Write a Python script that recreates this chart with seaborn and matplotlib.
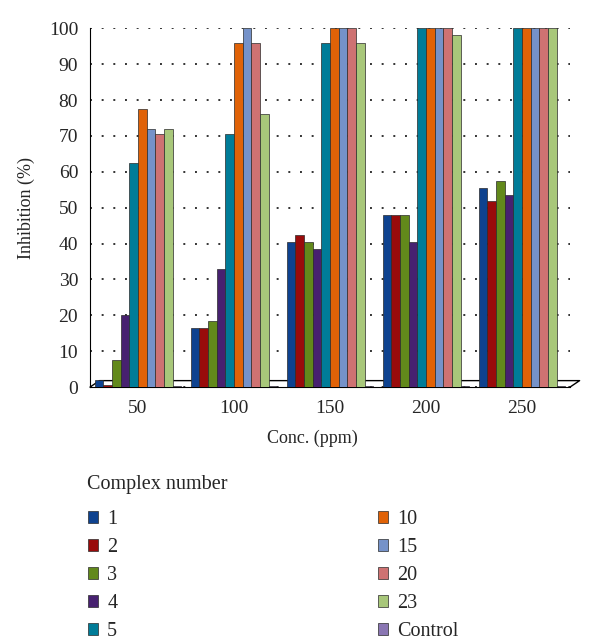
import numpy as np
import pandas as pd
import matplotlib.pyplot as plt
import seaborn as sns

concentracoes = ["50", "100", "150", "200", "250"]
complexos = ["1", "2", "3", "4", "5", "10", "15", "20", "23", "Control"]

# inibicao (%) por complexo, na ordem das concentracoes
inib_1 = [2, 16.5, 40.5, 48, 55.5]
inib_2 = [0.5, 16.5, 42.5, 48, 52]
inib_3 = [7.5, 18.5, 40.5, 48, 57.5]
inib_4 = [20, 33, 38.5, 40.5, 53.5]
inib_5 = [62.5, 70.5, 96, 100, 100]
inib_10 = [77.5, 96, 100, 100, 100]
inib_15 = [72, 100, 100, 100, 100]
inib_20 = [70.5, 96, 100, 100, 100]
inib_23 = [72, 76, 96, 98, 100]
inib_controle = [0.4, 0.4, 0.4, 0.4, 0.4]

cores = ["#0E428F", "#990B0B", "#62891B", "#472170", "#007C98",
         "#E06207", "#7592C9", "#CE7272", "#A8C77A", "#8A76B3"]

series = [inib_1, inib_2, inib_3, inib_4, inib_5,
          inib_10, inib_15, inib_20, inib_23, inib_controle]

linhas = []
for nome, valores in zip(complexos, series):
    for conc, v in zip(concentracoes, valores):
        linhas.append({"conc": conc, "complexo": nome, "inib": v})
df = pd.DataFrame(linhas)

sns.set_style("white")
plt.rcParams["font.family"] = ["Liberation Serif", "DejaVu Serif"]

fig = plt.figure(figsize=(6, 6.43), dpi=100)
ax = fig.add_axes([0.15, 0.398, 0.80, 0.558])

sns.barplot(
    data=df, x="conc", y="inib", hue="complexo",
    order=concentracoes, hue_order=complexos,
    palette=cores, saturation=1, width=0.9,
    edgecolor="#2a2a2a", linewidth=0.5, ax=ax, zorder=3
)

handles, labels = ax.get_legend_handles_labels()
ax.get_legend().remove()

ax.set_ylim(0, 100)
ax.set_xlim(-0.5, 4.5)
ax.set_yticks(np.arange(0, 101, 10))
ax.set_xticks(np.arange(-0.5, 5, 1), minor=True)
ax.tick_params(axis="x", which="major", length=0, labelsize=14, pad=9)
ax.tick_params(axis="x", which="minor", length=9, width=1, color="black", direction="out")
ax.tick_params(axis="y", length=5, width=1, color="black", direction="out", labelsize=14)

ax.yaxis.grid(True, linestyle=(0, (1, 5)), color="#333333", linewidth=1.4)
ax.set_axisbelow(True)

for lado in ["top", "right"]:
    ax.spines[lado].set_visible(False)
ax.spines["left"].set_color("black")
ax.spines["bottom"].set_color("black")

# piso em perspectiva (atras das barras)
ax.plot([0, 0.02, 1.02, 1.0], [0, 0.018, 0.018, 0], transform=ax.transAxes,
        color="black", linewidth=1, clip_on=False, zorder=1)

ax.set_xlabel("Conc. (ppm)", fontsize=13)
ax.xaxis.set_label_coords(0.4625, -0.12)
ax.set_ylabel("Inhibition (%)", fontsize=13, labelpad=10)

fig.text(0.145, 1 - 484 / 643, "Complex number", fontsize=14.5,
         ha="left", va="center")

fig.legend(
    handles, labels, ncol=2,
    loc="upper left", bbox_to_anchor=(0.13, 1 - 500 / 643),
    frameon=False, fontsize=14.5,
    handlelength=0.5, handleheight=0.5,
    labelspacing=0.45, columnspacing=12.95, handletextpad=0.45,
    borderpad=0
)

fig.savefig("out.png", dpi=100)
